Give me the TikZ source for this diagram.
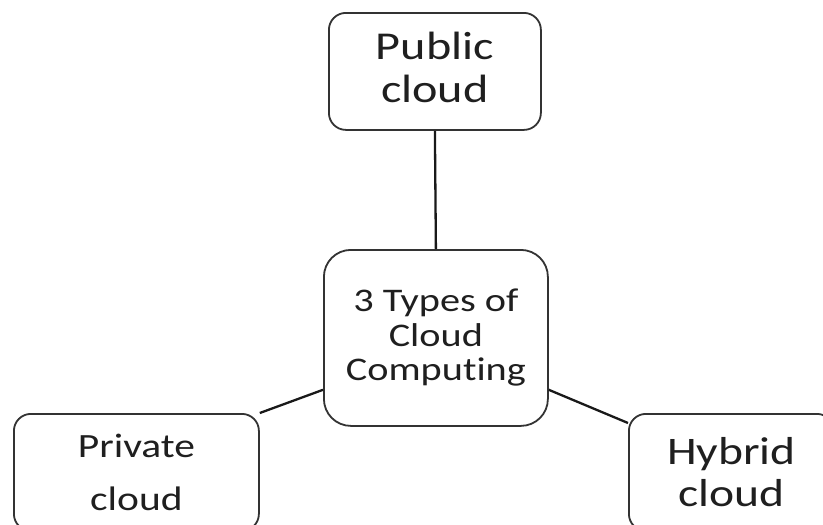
\documentclass[tikz,border=0pt]{standalone}
\usepackage{fontspec}
\setmainfont{Carlito}[FakeStretch=1.22,Ligatures=NoCommon]
\begin{document}
\begin{tikzpicture}[x=1pt,y=-1pt,
  box/.style={draw=black!80,line width=1.8pt,fill=white,inner sep=0pt,
    align=center,text=black!88,anchor=north west},
  link/.style={draw=black!90,line width=2.3pt}]
\clip (0,0) rectangle (823,525);
\fill[white] (0,0) rectangle (823,525);
% the three kinds of cloud around the central topic
\node[box,rounded corners=17pt,minimum width=212pt,minimum height=117pt,
  text depth=8pt,font=\fontsize{39.5}{43}\selectfont] (pub) at (328,12) {Public\\cloud};
\node[box,rounded corners=27pt,minimum width=224pt,minimum height=176pt,
  font=\fontsize{33}{34.5}\selectfont] (ctr) at (323,249) {3 Types of\\Cloud\\Computing};
\node[box,rounded corners=17pt,minimum width=245pt,minimum height=117pt,
  font=\fontsize{34}{53}\selectfont] (priv) at (13,413) {Private\\cloud};
\node[box,rounded corners=17pt,minimum width=205pt,minimum height=117pt,
  font=\fontsize{39}{42}\selectfont] (hyb) at (628,413) {Hybrid\\cloud};
% connectors
\draw[link] (pub.south) -- (ctr.north);
\draw[link] (priv.north east) -- ([yshift=37pt]ctr.south west);
\draw[link] ([yshift=37pt]ctr.south east) -- ([yshift=-10pt]hyb.north west);
\end{tikzpicture}
\end{document}
